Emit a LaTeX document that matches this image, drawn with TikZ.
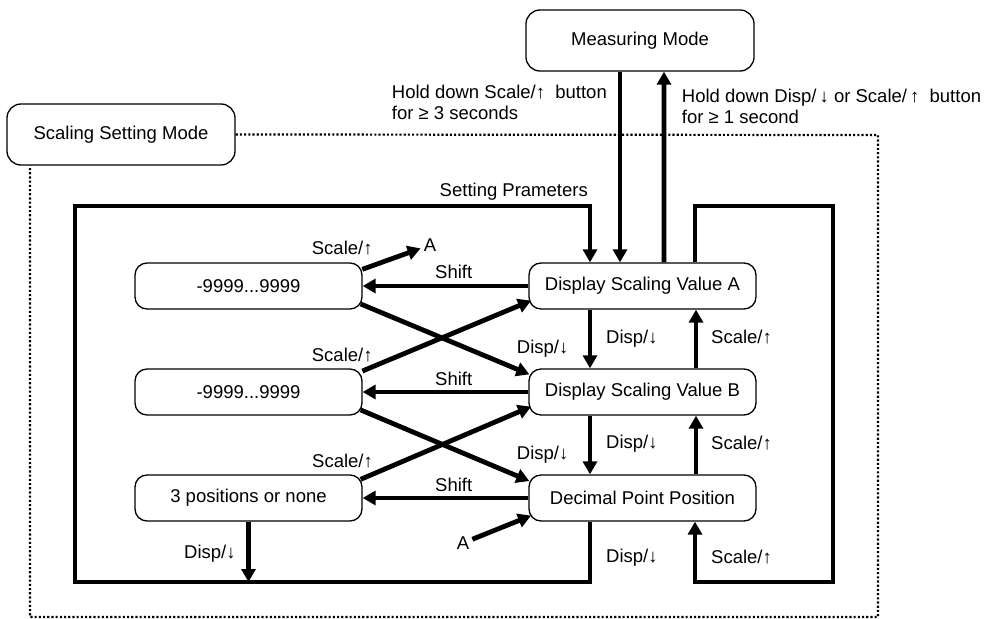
\documentclass[tikz,border=0pt]{standalone}
\usepackage{fontspec}
\setmainfont{Liberation Sans}
\usetikzlibrary{arrows.meta,calc}

\begin{document}
\begin{tikzpicture}[x=1bp,y=-1bp,
  every node/.style={font=\fontsize{18.5bp}{22bp}\selectfont, inner sep=0pt},
  state/.style={draw, line width=1.3bp, rounded corners=12bp,
    minimum width=227bp, minimum height=46bp},
  mode/.style={draw, line width=1.3bp, rounded corners=14bp,
    minimum width=228bp, minimum height=61bp},
  flow/.style={line width=4.8bp, -{Triangle[length=13bp,width=14bp]}},
  frame/.style={line width=2.2bp, dash pattern=on 2.1bp off 2.1bp},
  lbl/.style={anchor=base west},
  endtag/.style={inner sep=3bp},
]
\useasboundingbox (0,0) rectangle (987,619);

% modes
\node[mode] (meas) at (640,40.5) {Measuring Mode};
\node[mode] (ssm) at (121,134.5) {Scaling Setting Mode};

% parameter states (right column) and their value editors (left column)
\node[state] (dA) at (642.5,286) {Display Scaling Value A};
\node[state] (dB) at (642.5,392) {Display Scaling Value B};
\node[state] (dp) at (642.5,498) {Decimal Point Position};
\node[state] (vA) at (248.5,286) {-9999...9999};
\node[state] (vB) at (248.5,392) {-9999...9999};
\node[state] (pos) at (248.5,498) {3 positions or none};

% dotted boundary of the scaling setting mode
\coordinate (frNE) at (878,135);
\coordinate (frSE) at (878,617);
\coordinate (frSW) at (30,617);
\draw[frame] (ssm.east) -- (frNE) -- (frSE) -- (frSW) -- (frSW |- ssm.south);

% mode transitions
\draw[flow] ($(meas.south)+(-20,0)$) -- ($(dA.north)+(-22.5,0)$);
\draw[flow] ($(dA.north)+(21.5,0)$) -- ($(meas.south)+(24,0)$);
\node[lbl] (h1a) at (391.7,98.3) {Hold down Scale/↑\ \ button};
\node[lbl] (h1b) at (391.7,120) {for ≥ 3 seconds};
\node[lbl] (h2a) at (681.7,103) {Hold down Disp/\,↓ or Scale/\,↑\ \ button};
\node[lbl] (h2b) at (681.7,123.5) {for ≥ 1 second};

% outer loops
\coordinate (lSW) at (75,582);
\coordinate (lNW) at (75,206);
\draw[flow] ($(dp.south)+(-52.5,0)$) |- (lSW) -- (lNW) -| ($(dA.north)+(-52.5,0)$);
\node[anchor=base east] (setp) at (588,196.7) {Setting Prameters};

\coordinate (rNE) at (833,206);
\coordinate (rSE) at (833,582);
\draw[flow] ($(dA.north)+(52.5,0)$) |- (rNE) -- (rSE) -| ($(dp.south)+(52.5,0)$);

% Disp / Scale steps between parameters
\draw[flow] ($(dA.south)+(-52.5,0)$) -- ($(dB.north)+(-52.5,0)$);
\draw[flow] ($(dB.north)+(53.5,0)$) -- ($(dA.south)+(53.5,0)$);
\draw[flow] ($(dB.south)+(-52.5,0)$) -- ($(dp.north)+(-52.5,0)$);
\draw[flow] ($(dp.north)+(53.5,0)$) -- ($(dB.south)+(53.5,0)$);

\node[lbl] (d1) at (606,343.3) {Disp/↓};
\node[lbl] (s1) at (711,343.3) {Scale/↑};
\node[lbl] (d2) at (606,448.7) {Disp/↓};
\node[lbl] (s2) at (711,449.5) {Scale/↑};
\node[lbl] (d3) at (606,562.5) {Disp/↓};
\node[lbl] (s3) at (711,563) {Scale/↑};

% Shift into the editors
\draw[flow] (dA.west) -- (vA.east);
\draw[flow] (dB.west) -- (vB.east);
\draw[flow] (dp.west) -- (pos.east);
\node[lbl] (sh1) at (435,278.3) {Shift};
\node[lbl] (sh2) at (435,385) {Shift};
\node[lbl] (sh3) at (435,491.7) {Shift};

% Disp / Scale out of the editors
\node[endtag] (aT) at (430,245) {A};
\node[endtag] (aB) at (463,543) {A};
\draw[flow] ($(vA.north east)+(-0.3,7)$) -- (aT);
\draw[flow] ($(vA.south east)+(-2,-5.7)$) -- ($(dB.north west)+(1,6)$);
\draw[flow] ($(vB.north east)+(-0.3,2.7)$) -- ($(dA.south west)+(2.7,-9)$);
\draw[flow] ($(vB.south east)+(-2,-5.7)$) -- ($(dp.north west)+(1,6.7)$);
\draw[flow] ($(pos.north east)+(-2,5)$) -- ($(dB.south west)+(2.7,-9)$);
\draw[flow] (aB) -- ($(dp.south west)+(2.7,-6)$);
\draw[flow] (pos.south) -- (pos.south |- lSW);

\node[lbl] (sc1) at (311.7,255) {Scale/↑};
\node[lbl] (sc2) at (311.7,361.3) {Scale/↑};
\node[lbl] (sc3) at (312,467) {Scale/↑};
\node[lbl] (dl1) at (516.7,353.3) {Disp/↓};
\node[lbl] (dl2) at (516.7,459) {Disp/↓};
\node[lbl] (dl3) at (184,558.3) {Disp/↓};
\end{tikzpicture}
\end{document}
